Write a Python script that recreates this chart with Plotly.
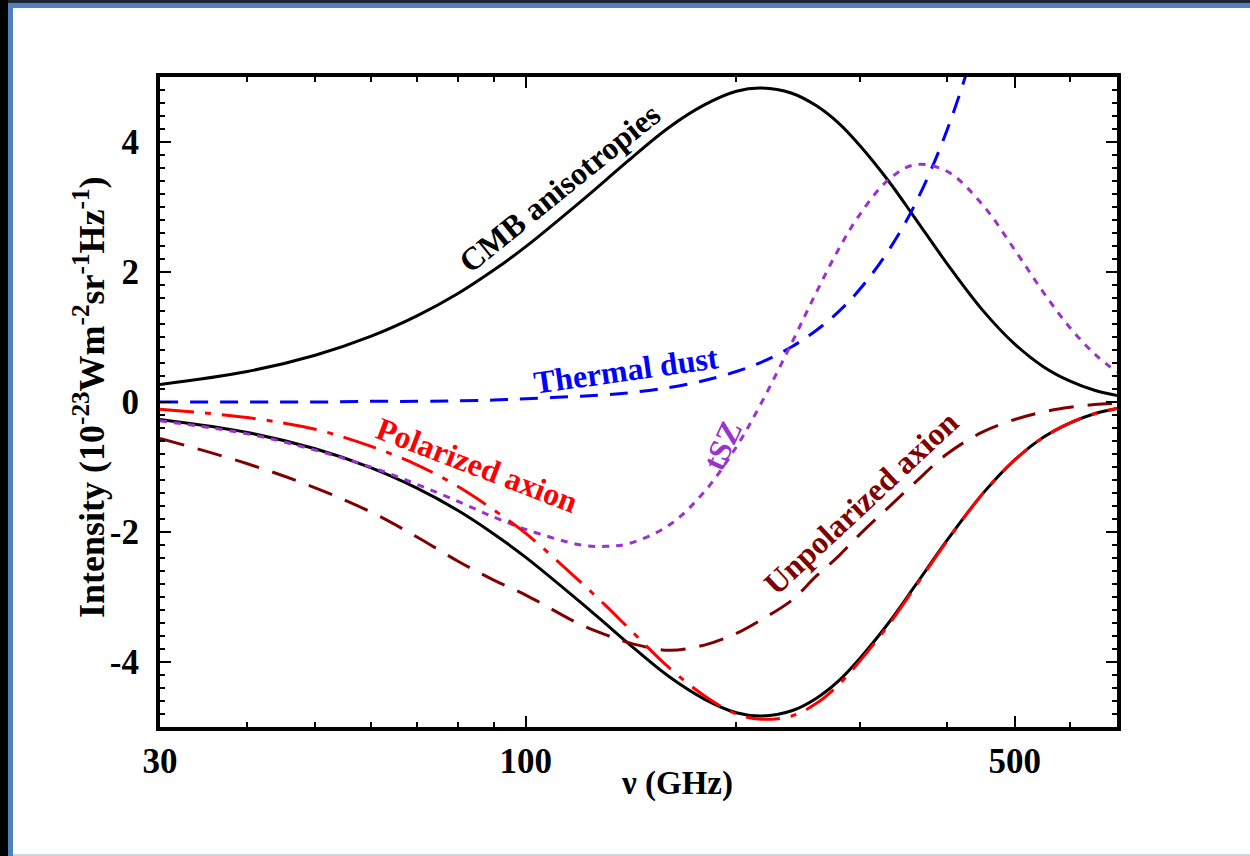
import math
import plotly.graph_objects as go

# Frequency grid (GHz) shared by the spectra
freq = [30, 40, 50, 60, 70, 80, 90, 100, 120, 130, 140, 160, 180, 200, 217,
        240, 260, 280, 300, 330, 360, 400, 450, 500, 550, 600, 650, 700]

# Intensities in units of 1e-23 W m^-2 sr^-1 Hz^-1
cmb = [0.27, 0.47, 0.72, 1.01, 1.33, 1.67, 2.03, 2.39, 3.09, 3.41, 3.71, 4.22,
       4.57, 4.78, 4.83, 4.75, 4.56, 4.29, 3.95, 3.40, 2.83, 2.13, 1.41, 0.89,
       0.54, 0.32, 0.18, 0.10]
cmb_neg = [-0.27, -0.47, -0.72, -1.01, -1.33, -1.67, -2.03, -2.39, -3.09, -3.41,
           -3.71, -4.22, -4.57, -4.78, -4.83, -4.75, -4.56, -4.29, -3.95, -3.40,
           -2.83, -2.13, -1.41, -0.89, -0.54, -0.32, -0.18, -0.10]
tsz = [-0.29, -0.49, -0.74, -1.00, -1.27, -1.53, -1.77, -1.96, -2.20, -2.22,
       -2.18, -1.90, -1.38, -0.69, -0.02, 0.91, 1.68, 2.35, 2.88, 3.42, 3.65,
       3.55, 3.03, 2.34, 1.68, 1.14, 0.74, 0.46]
dust_freq = [30, 40, 50, 60, 70, 80, 90, 100, 120, 130, 140, 160, 180, 200, 217,
             240, 260, 280, 300, 330, 360, 400, 450, 500]
dust = [0.00, 0.00, 0.00, 0.01, 0.01, 0.02, 0.03, 0.05, 0.09, 0.11, 0.14, 0.22,
        0.33, 0.47, 0.61, 0.85, 1.10, 1.39, 1.73, 2.33, 3.04, 4.18, 5.91, 7.98]
axion_unpol = [-0.56, -0.95, -1.32, -1.69, -2.08, -2.45, -2.74, -2.97, -3.43,
               -3.58, -3.70, -3.82, -3.74, -3.56, -3.35, -3.05, -2.68, -2.37,
               -2.04, -1.62, -1.24, -0.80, -0.46, -0.27, -0.15, -0.08, -0.04,
               -0.02]
axion_pol = [-0.11, -0.24, -0.42, -0.68, -0.97, -1.30, -1.66, -2.02, -2.78,
             -3.13, -3.47, -4.08, -4.52, -4.80, -4.88, -4.83, -4.64, -4.35,
             -3.99, -3.43, -2.85, -2.14, -1.41, -0.89, -0.54, -0.32, -0.18,
             -0.10]

x_ticks = [30, 100, 500]
x_minor = [40, 50, 60, 70, 80, 90, 200, 300, 400, 600, 700]
y_ticks = [-4, -2, 0, 2, 4]

SERIF = "Liberation Serif"
BLACK = "#000000"
BLUE = "#0000FF"
RED = "#FF0000"
MAROON = "#800000"
PURPLE = "#9933CC"

fig = go.Figure()


def curve(xs, ys, color, dash):
    fig.add_trace(go.Scatter(
        x=xs, y=ys, mode="lines",
        line=dict(color=color, width=3, dash=dash, shape="spline", smoothing=1.0),
        hoverinfo="skip", showlegend=False))


curve(freq, cmb, BLACK, "solid")
curve(freq, cmb_neg, BLACK, "solid")
curve(dust_freq, dust, BLUE, "18px,12px")
curve(freq, tsz, PURPLE, "7px,7px")
curve(freq, axion_unpol, MAROON, "25px,14px")
curve(freq, axion_pol, RED, "34px,11px,6px,11px")


def label(text, nu, y, angle, color):
    fig.add_annotation(
        x=math.log10(nu), y=y, xref="x", yref="y", text=text, showarrow=False,
        textangle=angle, font=dict(family=SERIF, size=32, color=color, weight="bold"))


label("CMB anisotropies", 111.7, 3.29, -39, BLACK)
label("Thermal dust", 139, 0.49, -8, BLUE)
label("Polarized axion", 85.2, -0.97, 21, RED)
label("tSZ", 191, -0.66, -65, PURPLE)
label("Unpolarized axion", 301, -1.55, -43, MAROON)

W, H = 1250, 856
L, R, T, B = 160, 133, 77, 129
pw, ph = W - L - R, H - T - B


def px(xp):
    return (xp - L) / pw


def py(yp):
    return (H - B - yp) / ph


# axis titles
fig.add_annotation(x=px(677), y=py(783), xref="paper", yref="paper",
                   xanchor="center", yanchor="middle",
                   text="ν (GHz)", showarrow=False,
                   font=dict(family=SERIF, size=33, color=BLACK, weight="bold"))
fig.add_annotation(x=px(89), y=py(397), xref="paper", yref="paper",
                   xanchor="center", yanchor="middle",
                   text="Intensity (10<sup>-23</sup>Wm<sup>-2</sup>sr<sup>-1</sup>Hz<sup>-1</sup>)",
                   showarrow=False, textangle=-90,
                   font=dict(family=SERIF, size=36, color=BLACK, weight="bold"))

# slide frame around the figure
frame = [
    (0, 0, 8, H, "#000000"),
    (8, 3, 13, H, "#4F81BD"),
    (8, 0, W, 3, "#1E2430"),
    (8, 3, W, 8, "#4F81BD"),
    (13, 854, W, H, "#C9D3E0"),
]
for x0, y0, x1, y1, c in frame:
    fig.add_shape(type="rect", xref="paper", yref="paper",
                  x0=px(x0), x1=px(x1), y0=py(y1), y1=py(y0),
                  line=dict(width=0), fillcolor=c, layer="above")

axis_common = dict(
    showline=True, linecolor=BLACK, linewidth=4, mirror="allticks",
    ticks="inside", tickcolor=BLACK, tickwidth=2, ticklen=11,
    showgrid=False, zeroline=False,
    tickfont=dict(family=SERIF, size=35, color=BLACK, weight="bold"),
)

fig.update_xaxes(
    type="log", range=[math.log10(30), math.log10(700)],
    tickmode="array", tickvals=x_ticks, ticktext=[str(v) for v in x_ticks],
    minor=dict(tickmode="array", tickvals=x_minor, ticks="inside",
               ticklen=5, tickwidth=2, tickcolor=BLACK, showgrid=False),
    **axis_common)
fig.update_yaxes(
    range=[-5, 5], tickmode="array", tickvals=y_ticks,
    ticktext=[str(v) for v in y_ticks], ticklabelstandoff=10,
    minor=dict(dtick=0.2, ticks="inside", ticklen=5, tickwidth=2,
               tickcolor=BLACK, showgrid=False),
    **axis_common)

fig.update_layout(
    width=W, height=H,
    margin=dict(l=L, r=R, t=T, b=B),
    paper_bgcolor="white", plot_bgcolor="white",
    showlegend=False,
)

fig.write_html("out.html")
